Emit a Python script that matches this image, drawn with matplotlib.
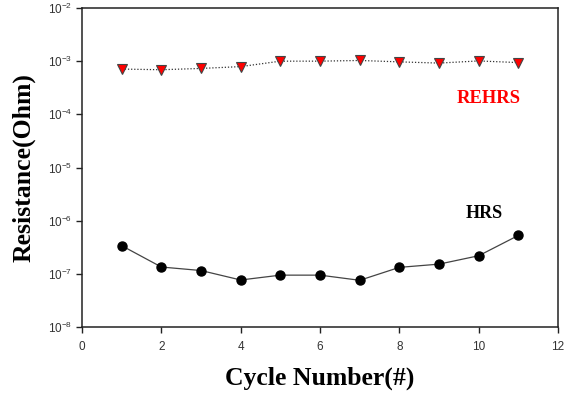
import matplotlib
matplotlib.use("Agg")
import matplotlib.pyplot as plt
from matplotlib.ticker import FuncFormatter, NullLocator
import math

cycles = [1, 2, 3, 4, 5, 6, 7, 8, 9, 10, 11]
rehrs = [7.1e-4, 6.9e-4, 7.3e-4, 7.9e-4, 1.0e-3, 1.0e-3, 1.03e-3, 9.7e-4, 9.2e-4, 1.01e-3, 9.4e-4]
hrs = [3.4e-7, 1.35e-7, 1.16e-7, 7.7e-8, 9.5e-8, 9.5e-8, 7.6e-8, 1.33e-7, 1.53e-7, 2.2e-7, 5.3e-7]
x_ticks = [0, 2, 4, 6, 8, 10, 12]
y_ticks = [1e-8, 1e-7, 1e-6, 1e-5, 1e-4, 1e-3, 1e-2]

fig = plt.figure(figsize=(5.7, 3.98), dpi=100)
ax = fig.add_axes([0.1439, 0.178, 0.979 - 0.1439, 0.980 - 0.178])

ax.plot(cycles, rehrs, linestyle=(0, (1, 1.5)), color="#333333", linewidth=0.9,
        marker="v", markersize=7, markerfacecolor="#ff0000", markeredgecolor="#444444",
        markeredgewidth=0.8)
ax.plot(cycles, hrs, linestyle="-", color="#444444", linewidth=0.9,
        marker="o", markersize=6.5, markerfacecolor="black", markeredgecolor="black")

ax.set_yscale("log")
ax.set_xlim(0, 12)
ax.set_ylim(1e-8, 1e-2)
ax.set_xticks(x_ticks)
ax.set_yticks(y_ticks)
ax.yaxis.set_minor_locator(NullLocator())

def fmt(v, pos):
    e = int(round(math.log10(v)))
    return r"10$^{\mathregular{%d}}$" % e

ax.yaxis.set_major_formatter(FuncFormatter(fmt))
ax.xaxis.set_major_formatter(FuncFormatter(lambda v, p: "%d" % v))

for lab in ax.get_xticklabels() + ax.get_yticklabels():
    lab.set_fontfamily("Liberation Sans")
    lab.set_fontsize(8.5)
    lab.set_color("#333333")

ax.tick_params(axis="both", which="major", direction="out", length=4, width=1,
               color="#222222", top=False, right=False)
ax.tick_params(axis="x", pad=6)
ax.tick_params(axis="y", pad=3)
for s in ax.spines.values():
    s.set_linewidth(1.1)
    s.set_color("#222222")

ax.set_xlabel("Cycle Number(#)", fontfamily="Liberation Serif", fontweight="bold",
              fontsize=18.5, labelpad=10)
ax.set_ylabel("Resistance(Ohm)", fontfamily="Liberation Serif", fontweight="bold",
              fontsize=18.5, labelpad=9)

ax.text(10.25, 10 ** (-3 - (99 - 62) / 53.2), "REHRS", color="#ff0000",
        fontfamily="Liberation Serif", fontweight="bold", fontsize=13.3,
        ha="center", va="center")
ax.text(10.13, 10 ** (-6 + (221 - 214) / 53.2), "HRS", color="black",
        fontfamily="Liberation Serif", fontweight="bold", fontsize=13,
        ha="center", va="center")

fig.savefig("out.png", dpi=100, facecolor="white")
